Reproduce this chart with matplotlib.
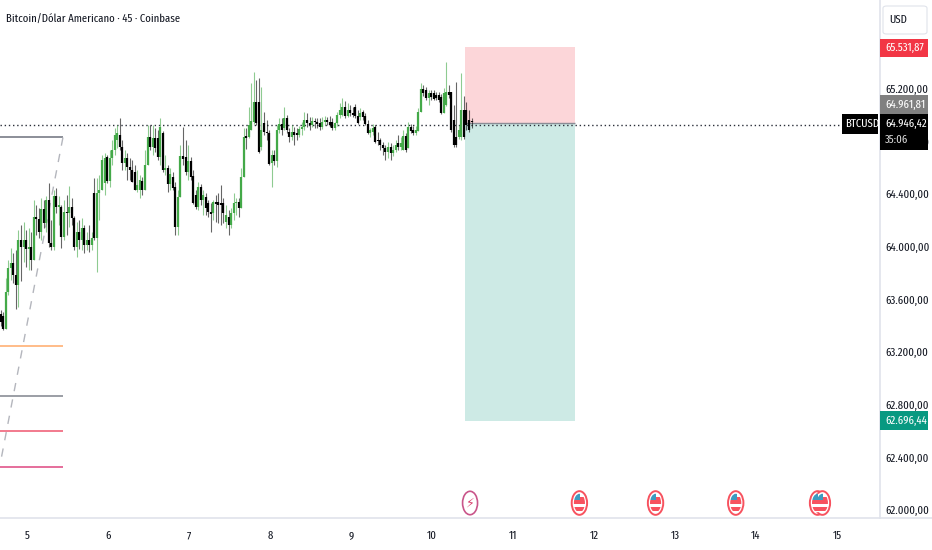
import numpy as np
import matplotlib
matplotlib.use("Agg")
import matplotlib.pyplot as plt
from matplotlib.lines import Line2D
from matplotlib.patches import Ellipse, Rectangle, FancyBboxPatch

plt.rcParams['font.family'] = ['Fira Sans Extra Condensed', 'Roboto Condensed', 'Liberation Sans']

# 45 minute candles
opens = [
    63490, 63474, 63376, 63657, 63839, 63877, 63786, 63710, 64052, 63999,
    64052, 63984, 63999, 63900, 64227, 64212, 64113, 64288, 64181, 64356,
    64029, 63999, 64386, 64303, 64303, 64075, 64265, 64257, 64303, 64219,
    63999, 64113, 64052, 64143, 64014, 64052, 64014, 64409, 64067, 64409,
    64432, 64485, 64683, 64500, 64675, 64736, 64812, 64850, 64759, 64637,
    64675, 64607, 64584, 64569, 64432, 64432, 64500, 64432, 64622, 64834,
    64759, 64827, 64827, 64683, 64865, 64584, 64599, 64478, 64531, 64455,
    64151, 64379, 64690, 64683, 64569, 64652, 64538, 64394, 64303, 64455,
    64356, 64379, 64333, 64265, 64257, 64341, 64341, 64333, 64333, 64189,
    64227, 64166, 64257, 64333, 64341, 64295, 64531, 64842, 64835, 64888,
    64949, 65101, 65101, 64759, 64941, 64873, 64865, 64637, 64698, 64652,
    64888, 64934, 64903, 64979, 64873, 64835, 64873, 64865, 64850, 64896,
    64911, 64964, 64941, 64926, 64956, 64949, 64941, 64911, 64949, 64964,
    64949, 64949, 64903, 64941, 65002, 65002, 65063, 64994, 65040, 65017,
    65063, 64994, 64987, 65025, 64994, 64934, 64865, 64873, 64911, 64812,
    64812, 64774, 64751, 64721, 64759, 64713, 64736, 64789, 64759, 64736,
    64842, 64751, 64911, 64888, 64865, 64880, 65025, 65200, 65192, 65131,
    65169, 65169, 65154, 65154, 65139, 65017, 65078, 65177, 65177, 64964,
    64835, 64835, 64835, 65040, 65040, 64964, 64956,
]
highs = [
    63520, 63505, 63763, 63900, 63991, 63953, 63976, 64128, 64166, 64189,
    64128, 64143, 64113, 64356, 64318, 64295, 64371, 64356, 64386, 64485,
    64204, 64432, 64447, 64386, 64318, 64356, 64394, 64462, 64371, 64234,
    64189, 64204, 64219, 64166, 64113, 64166, 64113, 64523, 64523, 64546,
    64698, 64713, 64698, 64736, 64812, 64903, 64926, 64979, 64812, 64736,
    64713, 64675, 64660, 64622, 64584, 64546, 64531, 64736, 64926, 64926,
    64926, 64903, 64888, 64979, 64880, 64698, 64622, 64599, 64569, 64493,
    64432, 64774, 64911, 64812, 64774, 64683, 64584, 64432, 64493, 64478,
    64432, 64409, 64356, 64333, 64356, 64394, 64409, 64470, 64371, 64318,
    64280, 64295, 64409, 64371, 64371, 64599, 64903, 64903, 65063, 65245,
    65329, 65268, 65283, 65215, 65025, 64964, 64888, 64736, 64736, 64926,
    64979, 64979, 65063, 65002, 64903, 64926, 64911, 64903, 64918, 64949,
    65025, 65017, 64987, 64987, 64979, 64979, 64979, 64987, 64994, 64987,
    64994, 64979, 64949, 65025, 65093, 65131, 65108, 65093, 65078, 65063,
    65086, 65040, 65055, 65040, 65017, 64964, 64903, 64934, 64926, 64873,
    64827, 64797, 64774, 64797, 64789, 64774, 64812, 64850, 64835, 64888,
    64865, 64949, 64934, 64918, 64918, 65055, 65245, 65230, 65215, 65192,
    65192, 65192, 65177, 65177, 65162, 65207, 65405, 65230, 65177, 65078,
    65253, 64926, 65321, 65146, 65101, 65040, 64979,
]
lows = [
    63398, 63368, 63376, 63634, 63748, 63725, 63528, 63543, 63740, 63885,
    63847, 63824, 63824, 63900, 64090, 64067, 64052, 64143, 64113, 63999,
    63976, 63976, 64257, 64166, 63991, 64052, 64090, 64151, 64166, 63976,
    63923, 63984, 63976, 63953, 63976, 63961, 63976, 64052, 63809, 64204,
    64432, 64394, 64485, 64455, 64622, 64698, 64751, 64736, 64584, 64584,
    64508, 64508, 64493, 64432, 64417, 64371, 64394, 64432, 64622, 64736,
    64698, 64721, 64660, 64622, 64569, 64546, 64417, 64432, 64432, 64090,
    64090, 64379, 64622, 64546, 64508, 64508, 64326, 64288, 64280, 64318,
    64242, 64242, 64227, 64113, 64204, 64189, 64181, 64166, 64181, 64143,
    64090, 64143, 64204, 64242, 64227, 64295, 64531, 64744, 64827, 64888,
    64934, 64926, 64713, 64736, 64850, 64812, 64622, 64455, 64622, 64607,
    64865, 64850, 64888, 64865, 64797, 64812, 64774, 64812, 64835, 64850,
    64888, 64911, 64888, 64911, 64903, 64903, 64888, 64896, 64926, 64926,
    64911, 64888, 64888, 64918, 64979, 64994, 64979, 64987, 64994, 64987,
    64979, 64934, 64964, 64964, 64926, 64858, 64835, 64850, 64789, 64774,
    64736, 64698, 64660, 64675, 64660, 64690, 64721, 64736, 64736, 64736,
    64721, 64751, 64865, 64850, 64850, 64880, 65025, 65146, 65116, 65078,
    65116, 65116, 65116, 65101, 65010, 65017, 65070, 65131, 64873, 64759,
    64759, 64820, 64812, 64820, 64888, 64873, 64903,
]
closes = [
    63429, 63376, 63657, 63839, 63877, 63786, 63710, 64052, 63999, 64052,
    63984, 63999, 63900, 64227, 64212, 64113, 64288, 64181, 64356, 64029,
    63999, 64386, 64303, 64318, 64075, 64265, 64257, 64303, 64219, 63999,
    64113, 64052, 64143, 64014, 64052, 64014, 64067, 64067, 64409, 64432,
    64660, 64675, 64500, 64675, 64736, 64850, 64865, 64759, 64637, 64675,
    64607, 64584, 64493, 64432, 64470, 64508, 64432, 64622, 64835, 64759,
    64827, 64751, 64683, 64911, 64584, 64599, 64478, 64554, 64447, 64151,
    64379, 64690, 64668, 64569, 64652, 64531, 64333, 64303, 64455, 64356,
    64394, 64295, 64265, 64250, 64341, 64326, 64318, 64318, 64257, 64242,
    64166, 64257, 64333, 64341, 64295, 64531, 64835, 64827, 64926, 64956,
    65101, 64941, 64721, 64888, 64873, 64865, 64630, 64698, 64652, 64888,
    64934, 64888, 64979, 64888, 64835, 64873, 64850, 64850, 64896, 64911,
    64964, 64941, 64926, 64956, 64949, 64934, 64911, 64949, 64964, 64949,
    64926, 64903, 64941, 65002, 65040, 65063, 64994, 65040, 65017, 65002,
    64994, 64941, 65017, 64987, 64934, 64865, 64888, 64903, 64797, 64804,
    64774, 64751, 64721, 64759, 64713, 64736, 64774, 64759, 64789, 64842,
    64736, 64911, 64880, 64865, 64888, 65025, 65200, 65169, 65131, 65169,
    65139, 65124, 65131, 65116, 65017, 65169, 65177, 65154, 64888, 64774,
    64774, 64888, 65040, 64835, 64926, 64888, 64946,
]

day_ticks = [5, 6, 7, 8, 9, 10, 11, 12, 13, 14, 15]
price_ticks = [62000, 62400, 62800, 63200, 63600, 64000, 64400, 64800, 65200]
price_labels = ['62.000,00', '62.400,00', '62.800,00', '63.200,00', '63.600,00',
                '64.000,00', '64.400,00', '64.800,00', '65.200,00']

# drawings left of the first candles: price level, colour
level_prices = [64831, 63246, 62866, 62600, 62327]
level_colors = ['#787b86', '#ffb074', '#8a8d96', '#f0647a', '#e0558a']
level_end_day = 5.444

# short position tool
stop_price = 65519
target_price = 62676
entry_price = 64940
last_line_price = 64928
tool_start_day = 10.41
tool_end_day = 11.77

event_days = [11.82, 12.76, 13.75, 14.76, 14.82]
lightning_day = 10.47
event_price = 62053

first_day = 4.676
candles_per_day = 32

GREEN = '#43a948'
BLACK = '#000000'
GRID_LINE = '#e0e3eb'
TEXT = '#131722'
FS = 8.4

fig = plt.figure(figsize=(9.32, 5.5), dpi=100)
ax = fig.add_axes([0, 32 / 550, 880 / 932, 518 / 550])
ax.set_xlim(4.667, 15.531)
ax.set_ylim(61939, 65876)

x = first_day + np.arange(len(closes)) / candles_per_day
o = np.array(opens)
c = np.array(closes)
colors = [GREEN if c[i] >= o[i] else BLACK for i in range(len(c))]

# position tool goes under the candles
ax.add_patch(Rectangle((tool_start_day, entry_price), tool_end_day - tool_start_day,
                       stop_price - entry_price, facecolor='#f23645', alpha=0.2, lw=0, zorder=1))
ax.add_patch(Rectangle((tool_start_day, target_price), tool_end_day - tool_start_day,
                       entry_price - target_price, facecolor='#089981', alpha=0.2, lw=0, zorder=1))
ax.hlines(entry_price, tool_start_day, tool_end_day, color='#8a8d96', lw=1, zorder=1.5)

ax.vlines(x, lows, highs, colors=colors, lw=0.8, alpha=0.6, zorder=3)
ax.vlines(x, np.minimum(o, c), np.maximum(o, c), colors=colors, lw=1.6, zorder=4)

ax.axhline(last_line_price, color='#2a2e39', lw=1, ls=(0, (1, 2)), zorder=2)

for price, col in zip(level_prices, level_colors):
    ax.hlines(price, 4.667, level_end_day, color=col, lw=1.2, zorder=2)
ax.plot([level_end_day, 4.667], [level_prices[0], 62343], color='#b4b6bd', lw=1,
        ls=(0, (6, 6)), zorder=2)


def draw_flag(day):
    # little US flag in a red ring, squeezed like the rest of the picture
    w, h = 0.19, 180
    ax.add_patch(Ellipse((day, event_price), w, h, facecolor='white', edgecolor='#f7525f',
                         lw=1.4, zorder=5))
    inner = Ellipse((day, event_price), w * 0.72, h * 0.78, facecolor='white', lw=0,
                    transform=ax.transData, zorder=5.1)
    ax.add_patch(inner)
    for left, bottom, wid, hei, col in [
        (day - w / 2, event_price - 10, w, 30, '#f7525f'),
        (day - w / 2, event_price - 60, w, 28, '#f7525f'),
        (day - w / 2, event_price + 20, w * 0.55, 90, '#3d9bc0'),
        (day + w * 0.05, event_price + 20, w * 0.45, 22, '#f7525f'),
    ]:
        r = Rectangle((left, bottom), wid, hei, facecolor=col, lw=0, zorder=5.2)
        ax.add_patch(r)
        r.set_clip_path(inner)


for day in event_days:
    draw_flag(day)
ax.add_patch(Ellipse((lightning_day, event_price), 0.185, 178, facecolor='white',
                     edgecolor='#c9558a', lw=1.2, zorder=5))
ax.text(lightning_day, event_price, '\u26a1', color='#d9436f', fontsize=9, ha='center',
        va='center', family=['DejaVu Sans'], zorder=6)

ax.xaxis.set_ticks(day_ticks)
ax.set_xticklabels([str(d) for d in day_ticks])
ax.yaxis.tick_right()
ax.yaxis.set_ticks(price_ticks)
ax.set_yticklabels(price_labels)
ax.tick_params(axis='both', length=0, labelsize=FS, labelcolor=TEXT)
ax.tick_params(axis='x', pad=9)
ax.tick_params(axis='y', pad=4)
for side in ['top', 'left']:
    ax.spines[side].set_visible(False)
for side in ['right', 'bottom']:
    ax.spines[side].set_color(GRID_LINE)
    ax.spines[side].set_linewidth(1.2)
fig.add_artist(Line2D([880 / 932, 1], [32 / 550, 32 / 550], color=GRID_LINE, lw=1.2))

fig.text(6 / 932, 1 - 19 / 550, 'Bitcoin/Dólar Americano · 45 · Coinbase', fontsize=FS,
         color=TEXT, va='center', ha='left')


def price_tag(y0, y1, label, color, x0=880, x1=928, x_text=885):
    # tags live in figure pixels, like the price scale overlay
    fig.add_artist(Rectangle((x0 / 932, 1 - y1 / 550), (x1 - x0) / 932, (y1 - y0) / 550,
                             facecolor=color, lw=0, zorder=10))
    fig.text(x_text / 932, 1 - (y0 + y1) / 2 / 550, label, color='white', fontsize=FS,
             va='center', ha='left', zorder=11)


price_tag(39, 57, '65.531,87', '#f23645')
price_tag(95, 114, '64.961,81', '#808080')
price_tag(114, 150, '', '#000000')
fig.text(885 / 932, 1 - 124 / 550, '64.946,42', color='white', fontsize=FS, va='center', zorder=11)
fig.text(885 / 932, 1 - 140 / 550, '35:06', color='#d8d8d8', fontsize=FS, va='center', zorder=11)
price_tag(114, 134, 'BTCUSD', '#000000', x0=842, x1=878, x_text=845)
price_tag(411, 430, '62.696,44', '#089981')

fig.add_artist(FancyBboxPatch((883 / 932, 1 - 34 / 550), 44 / 932, 28 / 550,
                              boxstyle='round,pad=0,rounding_size=0.004',
                              facecolor='white', edgecolor=GRID_LINE, lw=0.8, zorder=10))
fig.text(889 / 932, 1 - 20 / 550, 'USD', color=TEXT, fontsize=FS, va='center', zorder=11)

fig.savefig('out.png', dpi=100)
